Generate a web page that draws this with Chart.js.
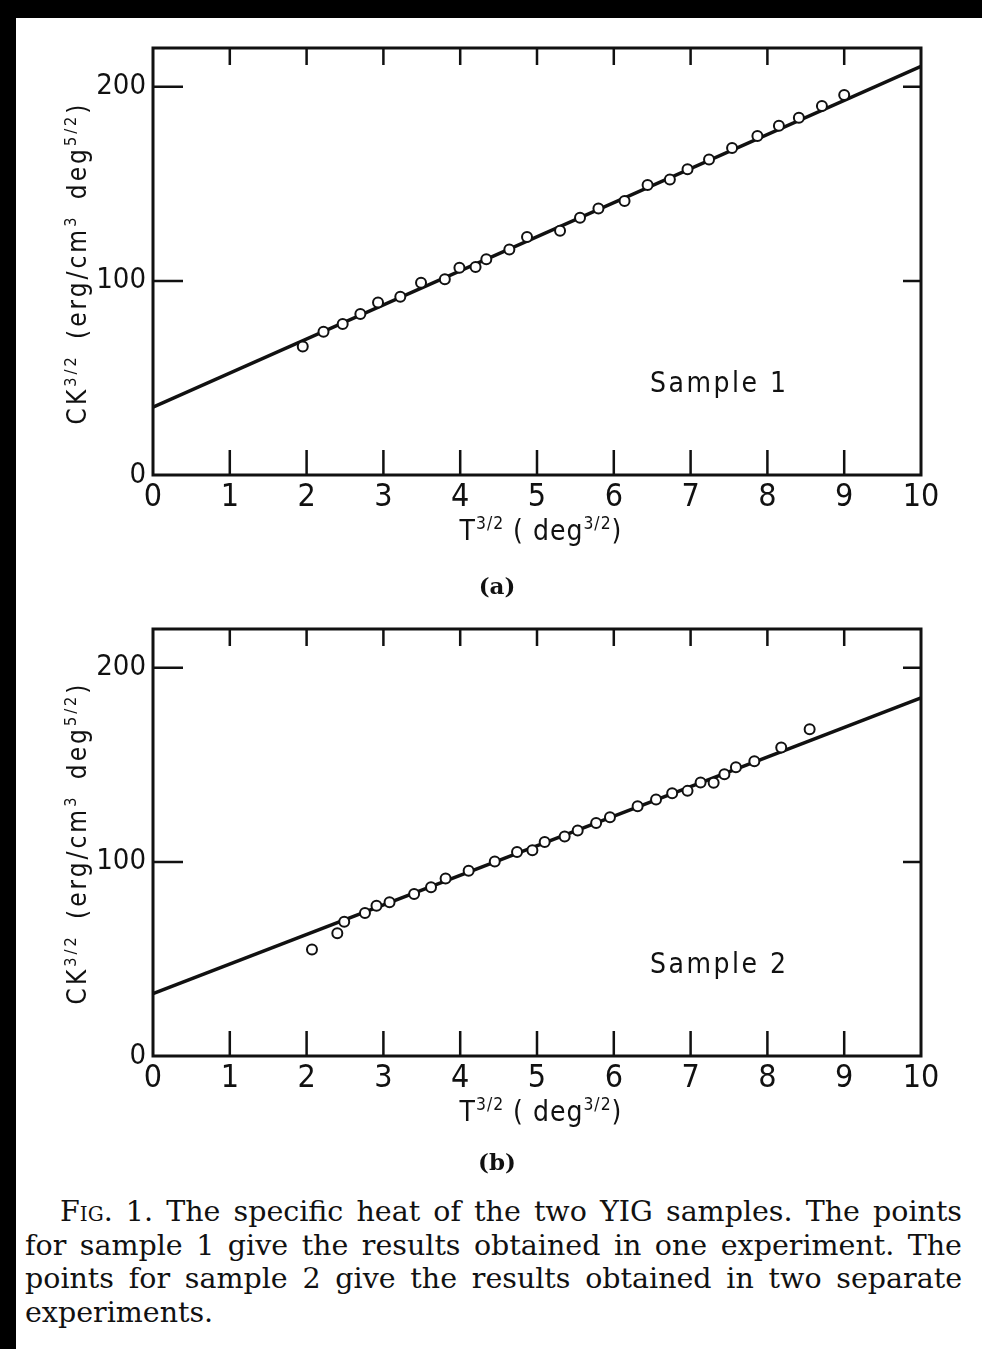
<!DOCTYPE html>
<html>
<head>
<meta charset="utf-8">
<script src="https://cdn.jsdelivr.net/npm/chart.js@4.4.0/dist/chart.umd.min.js"></script>
<style>
  body { margin: 0; background: #fff; width: 982px; height: 1349px; position: relative; overflow: hidden; }
  .bar { position: absolute; background: #000; }
  canvas { position: absolute; left: 0; }
  .lbl { position: absolute; white-space: nowrap; color: #111;
         font-family: 'Liberation Sans Narrow', 'DejaVu Sans Condensed', 'DejaVu Sans', sans-serif; }
  .lbl sup { font-size: 0.62em; vertical-align: 0.65em; line-height: 0; }
  .ytitle { font-size: 26px; letter-spacing: 3px; word-spacing: 5px; transform: translate(-50%, -50%) rotate(-90deg); }
  .xtitle { font-size: 28px; letter-spacing: 1px; transform: translateX(-50%); }
  .sample { font-size: 28px; letter-spacing: 2.5px; }
  .panel { position: absolute; font-family: 'DejaVu Serif', 'Liberation Serif', serif; font-size: 23px; font-weight: 600; color: #111; transform: translateX(-50%); }
  .cap { position: absolute; left: 25px; width: 937px; top: 1195px; color: #111;
         font-family: 'DejaVu Serif', 'Liberation Serif', serif; font-size: 28.5px; line-height: 33.5px; }
  .cap .ln { text-align: justify; text-align-last: justify; }
  .cap .first { text-indent: 35px; }
  .cap .last { text-align-last: left; }
  .sc { font-variant: small-caps; }
</style>
</head>
<body>
<div class="bar" style="left:0;top:0;width:982px;height:18px"></div>
<div class="bar" style="left:0;top:0;width:16px;height:1349px"></div>

<canvas id="chartA" width="982" height="560" style="top:0"></canvas>
<canvas id="chartB" width="982" height="560" style="top:581px"></canvas>

<div class="lbl ytitle" style="left:77px;top:263px">CK<sup>3/2</sup> (erg/cm<sup>3</sup> deg<sup>5/2</sup>)</div>
<div class="lbl xtitle" style="left:541px;top:514px">T<sup>3/2</sup> ( deg<sup>3/2</sup>)</div>
<div class="lbl sample" style="left:650px;top:366px">Sample 1</div>
<div class="panel" style="left:497px;top:572px">(a)</div>

<div class="lbl ytitle" style="left:77px;top:843px">CK<sup>3/2</sup> (erg/cm<sup>3</sup> deg<sup>5/2</sup>)</div>
<div class="lbl xtitle" style="left:541px;top:1095px">T<sup>3/2</sup> ( deg<sup>3/2</sup>)</div>
<div class="lbl sample" style="left:650px;top:947px">Sample 2</div>
<div class="panel" style="left:497px;top:1148px">(b)</div>

<div class="cap">
  <div class="ln first">F<span class="sc">ig</span>. 1. The specific heat of the two YIG samples. The points</div>
  <div class="ln">for sample 1 give the results obtained in one experiment. The</div>
  <div class="ln">points for sample 2 give the results obtained in two separate</div>
  <div class="ln last">experiments.</div>
</div>

<script>
// T^{3/2} values and CK^{3/2} values
const s1X = [1.95, 2.22, 2.47, 2.70, 2.93, 3.22, 3.49, 3.80, 3.99, 4.20, 4.34, 4.64, 4.87,
             5.30, 5.56, 5.80, 6.14, 6.44, 6.73, 6.96, 7.24, 7.54, 7.87, 8.15, 8.41, 8.71, 9.00];
const s1Y = [66.2, 73.8, 77.8, 82.9, 88.9, 91.8, 99.0, 100.9, 106.8, 107.2, 111.1, 116.2, 122.6,
             125.8, 132.6, 137.3, 141.2, 149.4, 152.2, 157.5, 162.5, 168.5, 174.6, 179.9, 184.1, 190.1, 195.8];

const s2X = [2.07, 2.40, 2.49, 2.76, 2.91, 3.08, 3.40, 3.62, 3.81, 4.11, 4.45, 4.74, 4.94,
             5.10, 5.36, 5.53, 5.77, 5.95, 6.31, 6.55, 6.76, 6.96, 7.13, 7.30, 7.44, 7.59,
             7.83, 8.18, 8.55];
const s2Y = [54.9, 63.3, 69.2, 73.7, 77.4, 79.2, 83.5, 86.9, 91.5, 95.5, 100.2, 105.1, 106.0,
             110.3, 113.1, 116.2, 120.1, 123.0, 128.7, 132.2, 135.4, 136.6, 140.9, 140.8, 145.2, 148.8,
             151.9, 159.0, 168.3];

// fitted straight lines, given at the two ends of the axis
const fitX = [0, 10];
const fit1 = [35.0, 210.6];
const fit2 = [32.2, 184.5];

const xTicks = [0, 1, 2, 3, 4, 5, 6, 7, 8, 9, 10];
const yTicks = [0, 100, 200];

const ink = '#111';
const tickFont = "'Liberation Sans Narrow', 'DejaVu Sans Condensed', 'DejaVu Sans', sans-serif";

// frame and inward ticks
const frameTicks = {
  id: 'frameTicks',
  afterDatasetsDraw(chart) {
    const ctx = chart.ctx;
    const a = chart.chartArea;
    const x = chart.scales.x, y = chart.scales.y;
    ctx.save();
    ctx.strokeStyle = ink;
    ctx.lineWidth = 2.5;
    xTicks.forEach(v => {
      if (v <= 0 || v >= 10) return;
      const px = x.getPixelForValue(v);
      ctx.beginPath();
      ctx.moveTo(px, a.bottom); ctx.lineTo(px, a.bottom - 25);
      ctx.moveTo(px, a.top); ctx.lineTo(px, a.top + 17);
      ctx.stroke();
    });
    yTicks.forEach(v => {
      if (v <= 0) return;
      const py = y.getPixelForValue(v);
      ctx.beginPath();
      ctx.moveTo(a.left, py); ctx.lineTo(a.left + 30, py);
      ctx.moveTo(a.right, py); ctx.lineTo(a.right - 18, py);
      ctx.stroke();
    });
    ctx.lineWidth = 3;
    ctx.strokeRect(a.left, a.top, a.right - a.left, a.bottom - a.top);
    ctx.restore();
  }
};

function makeChart(id, xs, ys, fit) {
  return new Chart(document.getElementById(id), {
    type: 'scatter',
    data: {
      datasets: [
        {
          data: xs.map((v, i) => ({ x: v, y: ys[i] })),
          pointRadius: 5,
          pointBorderWidth: 2,
          pointBackgroundColor: '#fff',
          pointBorderColor: ink,
          showLine: false
        },
        {
          data: fitX.map((v, i) => ({ x: v, y: fit[i] })),
          showLine: true,
          borderColor: ink,
          borderWidth: 3.5,
          pointRadius: 0
        }
      ]
    },
    options: {
      responsive: false,
      animation: false,
      events: [],
      layout: { padding: { left: 93, right: 61, top: 48, bottom: 45 } },
      plugins: { legend: { display: false }, tooltip: { enabled: false } },
      scales: {
        x: {
          type: 'linear', min: 0, max: 10,
          grid: { display: false, drawTicks: false },
          border: { display: false },
          afterBuildTicks: s => { s.ticks = xTicks.map(v => ({ value: v })); },
          afterFit: s => { s.height = 40; s.paddingLeft = 0; s.paddingRight = 0; },
          ticks: { color: ink, padding: 3, maxRotation: 0, autoSkip: false,
                   font: { family: tickFont, size: 32 } }
        },
        y: {
          type: 'linear', min: 0, max: 220,
          grid: { display: false, drawTicks: false },
          border: { display: false },
          afterBuildTicks: s => { s.ticks = yTicks.map(v => ({ value: v })); },
          afterFit: s => { s.width = 60; s.paddingTop = 0; s.paddingBottom = 0; },
          ticks: { color: ink, padding: 7, font: { family: tickFont, size: 29 } }
        }
      }
    },
    plugins: [frameTicks]
  });
}

makeChart('chartA', s1X, s1Y, fit1);
makeChart('chartB', s2X, s2Y, fit2);
</script>
</body>
</html>
